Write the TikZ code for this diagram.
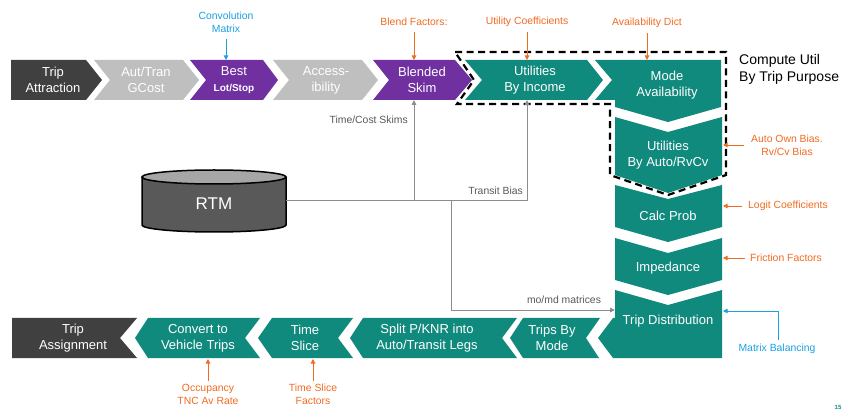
\documentclass[tikz,border=0pt]{standalone}
\usepackage{fontspec}
\setmainfont{Liberation Sans}
\usetikzlibrary{arrows.meta}
\definecolor{teal1}{HTML}{118A7E}
\definecolor{purp}{HTML}{7030A0}
\definecolor{dgray}{HTML}{404040}
\definecolor{lgray}{HTML}{BFBFBF}
\definecolor{orng}{HTML}{F26B21}
\definecolor{blu}{HTML}{1BA1E2}
\definecolor{lnGray}{HTML}{8C8C8C}
\definecolor{txGray}{HTML}{595959}
\definecolor{cylTop}{HTML}{A6A6A6}
\definecolor{cylBody}{HTML}{595959}
\begin{document}
\begin{tikzpicture}[x=1pt,y=-1pt,
  boxtxt/.style={text=white, font=\fontsize{13}{16}\selectfont, align=center, inner sep=0pt},
  anno/.style={text=orng, font=\fontsize{10.4}{13}\selectfont, align=center, inner sep=0pt},
  annob/.style={anno, text=blu},
  oarrow/.style={draw=orng, line width=0.9pt, -{Triangle[length=4.5pt,width=4.5pt]}},
  barrow/.style={draw=blu, line width=0.9pt, -{Triangle[length=4.5pt,width=4.5pt]}},
  garrow/.style={draw=lnGray, line width=0.9pt, -{Triangle[length=5pt,width=4.5pt]}},
  gline/.style={draw=lnGray, line width=0.9pt},
  glabel/.style={text=txGray, font=\fontsize{10.4}{12}\selectfont, inner sep=0pt},
  dashbox/.style={draw=black, line width=2.2pt, dash pattern=on 7pt off 4.5pt}]
\useasboundingbox (0,0) rectangle (848,411);
\fill[white] (0,0) rectangle (848,411);

% ---- top row ----
\fill[dgray] (11,60) -- (86,60) -- (102,80) -- (86,100) -- (11,100) -- cycle;
\node[boxtxt] (tattr) at (53,80) {Trip\\Attraction};
\fill[lgray] (94,60) -- (183,60) -- (199,80) -- (183,100) -- (94,100) -- (110,80) -- cycle;
\node[boxtxt] (gcost) at (146,80) {Aut/Tran\\GCost};
\fill[purp] (190,60) -- (263,60) -- (278,80) -- (263,100) -- (190,100) -- (206,80) -- cycle;
\node[boxtxt] (best) at (234,80) {Best\\{\fontsize{10}{12}\selectfont\bfseries Lot/Stop}};
\fill[lgray] (273,60) -- (362,60) -- (378,80) -- (362,100) -- (273,100) -- (289,80) -- cycle;
\node[boxtxt] (access) at (326,80) {Access-\\ibility};
\fill[purp] (373,60) -- (455,60) -- (472,80) -- (455,100) -- (373,100) -- (389,80) -- cycle;
\node[boxtxt] (blend) at (422,80) {Blended\\Skim};
\fill[teal1] (465,60) -- (587,60) -- (603,80) -- (587,100) -- (465,100) -- (482,80) -- cycle;
\node[boxtxt] (utinc) at (535,80) {Utilities\\By Income};
\fill[teal1] (595,60) -- (721,60) -- (721,107) -- (668,122) -- (615,107) -- (615,100) -- (595,100) -- (612,80) -- cycle;
\node[boxtxt] (modeav) at (667,85) {Mode\\Availability};

% ---- column ----
\fill[teal1] (615,117) -- (668,132) -- (722,117) -- (722,175) -- (668,193) -- (615,175) -- cycle;
\node[boxtxt] (utauto) at (668,155) {Utilities\\By Auto/RvCv};
\fill[teal1] (615,185) -- (668,199) -- (722,185) -- (722,227) -- (668,242) -- (615,227) -- cycle;
\node[boxtxt] (calc) at (668,216) {Calc Prob};
\fill[teal1] (615,238) -- (668,253) -- (722,238) -- (722,280) -- (668,295) -- (615,280) -- cycle;
\node[boxtxt] (imped) at (668,268) {Impedance};
\fill[teal1] (615,290) -- (668,305) -- (722,290) -- (722,358) -- (613,358) -- (598,338) -- (613,318) -- (615,318) -- cycle;
\node[boxtxt] (tdist) at (668,321) {Trip Distribution};

% ---- bottom row ----
\fill[dgray] (12,318) -- (137,318) -- (120,338) -- (137,358) -- (12,358) -- cycle;
\node[boxtxt] (tassign) at (73,338) {Trip\\Assignment};
\fill[teal1] (148,318) -- (260,318) -- (245,338) -- (260,358) -- (148,358) -- (135,338) -- cycle;
\node[boxtxt] (conv) at (198,338) {Convert to\\Vehicle Trips};
\fill[teal1] (272,318) -- (353,318) -- (338,338) -- (353,358) -- (272,358) -- (258,338) -- cycle;
\node[boxtxt] (tslice) at (305,338) {Time\\Slice};
\fill[teal1] (363,318) -- (517,318) -- (502,338) -- (517,358) -- (363,358) -- (350,338) -- cycle;
\node[boxtxt] (split) at (427,338) {Split P/KNR into\\Auto/Transit Legs};
\fill[teal1] (523,318) -- (600,318) -- (586,338) -- (599,358) -- (523,358) -- (510,338) -- cycle;
\node[boxtxt] (tbm) at (552,338) {Trips By\\Mode};

% ---- dashed group ----
\draw[dashbox] (455,52) -- (726,52) -- (726,175) -- (668,195) -- (610,175) -- (610,104) -- (457,104) -- (474,80) -- cycle;
\node[anchor=west, align=left, inner sep=0pt, font=\fontsize{14}{17}\selectfont] (cu) at (739,69) {Compute Util\\By Trip Purpose};

% ---- RTM cylinder ----
\fill[cylBody] (142,177) -- (142,225) arc[start angle=180, end angle=360, x radius=72, y radius=-7] -- (286,177) -- cycle;
\draw[black, line width=1.5pt] (142,177) -- (142,225) arc[start angle=180, end angle=360, x radius=72, y radius=-7] -- (286,177);
\draw[black, line width=1.5pt, fill=cylTop] (214,177) ellipse[x radius=72, y radius=7];
\node[text=white, font=\fontsize{17}{20}\selectfont, inner sep=0pt] (rtm) at (214,204) {RTM};

% ---- gray connectors ----
\coordinate (rtmR) at (286,200);
\coordinate (jA) at (414,200);
\coordinate (jB) at (451,200);
\coordinate (blendB) at (414,100);
\coordinate (utincB) at (527,100);
\coordinate (tdistL) at (615,310);
\draw[garrow] (rtmR) -- (527,200) -- (utincB);
\draw[garrow] (jA) -- (blendB);
\draw[garrow] (jB) |- (tdistL);
\node[glabel, anchor=east] (tcs) at (408,120) {Time/Cost Skims};
\node[glabel, anchor=east] (tb) at (523,191) {Transit Bias};
\node[glabel] (momd) at (564,300) {mo/md matrices};

% ---- annotations ----
\node[annob] (convm) at (226,22.5) {Convolution\\Matrix};
\coordinate (bestT) at (226,60);
\draw[barrow] (226,39) -- (bestT);
\node[anno] (blendf) at (414,22) {Blend Factors:};
\coordinate (blendT) at (414,60);
\draw[oarrow] (414,32) -- (blendT);
\node[anno] (utcoef) at (527,22) {Utility Coefficients};
\coordinate (utincT) at (527,60);
\draw[oarrow] (527,32) -- (utincT);
\node[anno] (avd) at (647,23) {Availability Dict};
\coordinate (modeT) at (647,60);
\draw[oarrow] (647,33) -- (modeT);
\node[anno] (aob) at (787,145) {Auto Own Bias.\\Rv/Cv Bias};
\coordinate (grpR) at (723,145);
\draw[oarrow] (744,145) -- (grpR);
\node[anno, anchor=west] (logit) at (748,206) {Logit Coefficients};
\coordinate (calcR) at (723,206);
\draw[oarrow] (logit.west) ++(-6,0) -- (calcR);
\node[anno, anchor=west] (fric) at (750,258) {Friction Factors};
\coordinate (impR) at (723,258);
\draw[oarrow] (fric.west) ++(-5,0) -- (impR);
\node[annob] (mbal) at (777,349) {Matrix Balancing};
\coordinate (tdistR) at (723,311);
\draw[barrow] (778,340) |- (tdistR);
\node[anno] (occ) at (208,394.5) {Occupancy\\TNC Av Rate};
\coordinate (convB) at (208,359);
\draw[oarrow] (208,381) -- (convB);
\node[anno] (tsf) at (313,394.5) {Time Slice\\Factors};
\coordinate (tsB) at (313,359);
\draw[oarrow] (313,381) -- (tsB);

\node[text=teal1, font=\fontsize{6}{7}\selectfont\bfseries, inner sep=0pt] (pg) at (838,407) {15};
\end{tikzpicture}
\end{document}
